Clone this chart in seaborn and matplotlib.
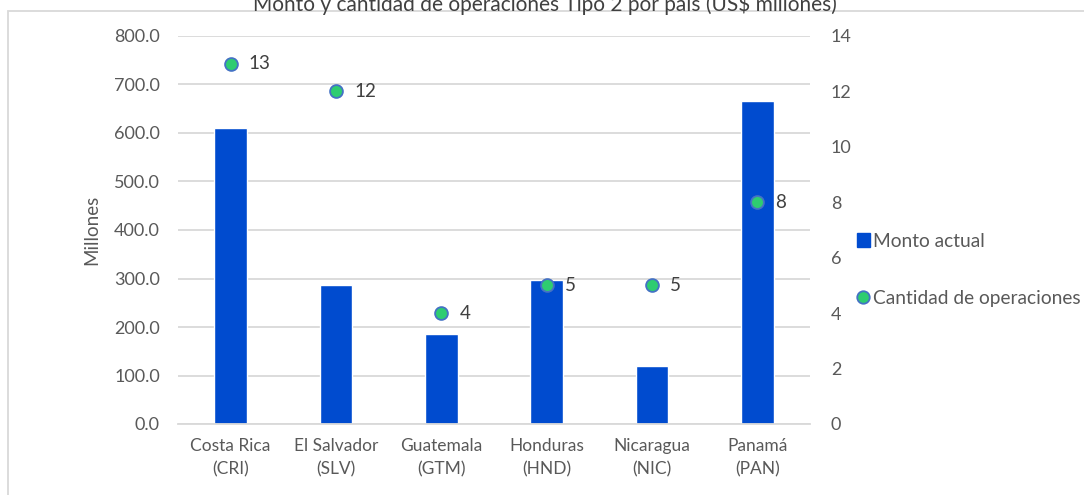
import matplotlib
matplotlib.use("Agg")
import matplotlib.pyplot as plt
import matplotlib.patches as mpatches
from matplotlib.lines import Line2D
import seaborn as sns
import numpy as np
import pandas as pd

categories = ["Costa Rica\n(CRI)", "El Salvador\n(SLV)", "Guatemala\n(GTM)",
              "Honduras\n(HND)", "Nicaragua\n(NIC)", "Panamá\n(PAN)"]
monto_actual = [611, 287, 186, 296, 119, 666]
cantidad_operaciones = [13, 12, 4, 5, 5, 8]
left_ticks = [0, 100, 200, 300, 400, 500, 600, 700, 800]
right_ticks = [0, 2, 4, 6, 8, 10, 12, 14]

sns.set_theme(style="white")
plt.rcParams['font.family'] = ['Lato', 'DejaVu Sans']

BAR = "#004BCF"
GRID = "#D9D9D9"
TXT = "#595959"

df = pd.DataFrame({"pais": categories, "monto": monto_actual,
                   "cant": cantidad_operaciones})

fig = plt.figure(figsize=(10.84, 4.95), dpi=100)
ax = fig.add_axes([178/1084, 1-424/495, (810-178)/1084, (424-36)/495])

sns.barplot(data=df, x="pais", y="monto", color=BAR, width=0.31,
            saturation=1, ax=ax, zorder=2)
ax.set_ylim(0, 800)
ax.set_yticks(left_ticks)
ax.set_yticklabels([f"{v:.1f}" for v in left_ticks], color=TXT, fontsize=13)
ax.set_xlim(-0.5, len(categories)-0.5)
ax.set_xlabel("")
ax.set_ylabel("Millones", color=TXT, fontsize=13.5, labelpad=10)
ax.tick_params(axis="y", length=0, pad=13)
ax.grid(axis="y", color=GRID, linewidth=1.3, zorder=0)
ax.set_axisbelow(True)
for s in ["top", "right", "left"]:
    ax.spines[s].set_visible(False)
ax.spines["bottom"].set_color(GRID)
ax.spines["bottom"].set_linewidth(1.3)

ax2 = ax.twinx()
xpos = np.arange(len(categories))
sns.scatterplot(x=xpos, y=cantidad_operaciones, ax=ax2, s=85, color="#2ECC71",
                edgecolor="#4472C4", linewidth=1.3, zorder=5)
ax2.set_ylim(0, 14)
ax2.set_yticks(right_ticks)
ax2.set_yticklabels([str(v) for v in right_ticks], color=TXT, fontsize=13)
ax2.tick_params(axis="y", length=0, pad=15)
for s in ["top", "right", "left", "bottom"]:
    ax2.spines[s].set_visible(False)
for x, v in zip(xpos, cantidad_operaciones):
    ax2.annotate(str(v), (x, v), xytext=(13, 0), textcoords="offset points",
                 va="center", ha="left", fontsize=13.5, color="#404040")
ax.set_xticks(xpos)
ax.set_xticklabels(categories)
ax.tick_params(axis="x", length=0, pad=10, labelsize=12.5, labelcolor=TXT)
for lbl in ax.get_xticklabels():
    lbl.set_linespacing(1.55)

# legend
handles = [mpatches.Patch(color=BAR, label="Monto actual"),
           Line2D([], [], marker="o", linestyle="", markerfacecolor="#2ECC71",
                  markeredgecolor="#4472C4", markersize=9, markeredgewidth=1.3,
                  label="Cantidad de operaciones")]
fig.legend(handles=handles, loc="center left", bbox_to_anchor=(849/1084, 1-270/495),
           frameon=False, fontsize=13.8, labelcolor=TXT, handlelength=0.7,
           handletextpad=0.15, labelspacing=2.1, borderaxespad=0)

# outer frame
fig.patches.append(mpatches.Rectangle((8/1084, -0.2), 2, 1.2-11/495,
                                      transform=fig.transFigure, fill=False,
                                      edgecolor=GRID, linewidth=1.3))

fig.text(0.503, 1-4/495, "Monto y cantidad de operaciones Tipo 2 por país (US\\$ millones)",
         ha="center", va="center", fontsize=15, color="#404040")

fig.savefig("out.png", dpi=100, facecolor="white")
